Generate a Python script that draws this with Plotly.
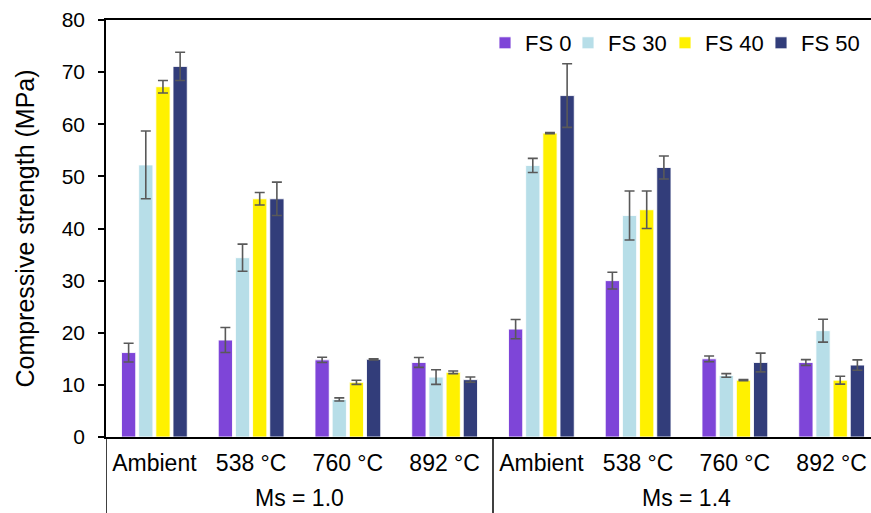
import plotly.graph_objects as go

# Temperature conditions within each silicate-modulus group
conditions = ["Ambient", "538 °C", "760 °C", "892 °C",
              "Ambient", "538 °C", "760 °C", "892 °C"]
ms_groups = ["Ms = 1.0", "Ms = 1.4"]
x_pos = list(range(len(conditions)))

series_names = ["FS 0", "FS 30", "FS 40", "FS 50"]

# Compressive strength (MPa) and standard deviation per mix
fs0 = [16.2, 18.6, 14.8, 14.3, 20.7, 30.0, 15.0, 14.3]
fs0_err = [1.8, 2.4, 0.5, 0.95, 1.85, 1.6, 0.55, 0.55]
fs30 = [52.2, 34.4, 7.2, 11.5, 52.1, 42.5, 11.8, 20.4]
fs30_err = [6.5, 2.6, 0.3, 1.4, 1.35, 4.7, 0.35, 2.2]
fs40 = [67.2, 45.7, 10.5, 12.4, 58.3, 43.6, 10.9, 10.9]
fs40_err = [1.2, 1.2, 0.4, 0.25, 0.1, 3.6, 0.1, 0.75]
fs50 = [71.1, 45.7, 14.9, 11.0, 65.5, 51.7, 14.3, 13.8]
fs50_err = [2.7, 3.2, 0.1, 0.5, 6.1, 2.2, 1.8, 1.0]

values = [fs0, fs30, fs40, fs50]
errors = [fs0_err, fs30_err, fs40_err, fs50_err]
colors = ["#7E45D8", "#B7DEE8", "#FFF100", "#323D7A"]

FONT = "Liberation Sans, Arial, sans-serif"

W, H = 871, 513
ML, MR, MT, MB = 106, 0, 20, 76
plot_w = W - ML - MR
plot_h = H - MT - MB
group_px = 96.75
x_max = -0.5 + plot_w / group_px

# Each legend entry gets its own legend box so the entries sit tight together
legend_ids = ["legend", "legend2", "legend3", "legend4"]
legend_left_px = [485, 568, 665, 761]

fig = go.Figure()
for name, vals, errs, col, lid in zip(series_names, values, errors, colors, legend_ids):
    fig.add_trace(go.Bar(
        name=name,
        x=x_pos,
        y=vals,
        legend=lid,
        marker=dict(color=col, line=dict(color="rgba(255,255,255,0.85)", width=1)),
        error_y=dict(type="data", array=errs, visible=True,
                     color="#595959", thickness=1.6, width=5),
    ))

legend_layout = {}
for lid, lx in zip(legend_ids, legend_left_px):
    legend_layout[lid] = dict(
        orientation="h", x=(lx - ML) / plot_w, xanchor="left",
        y=1 - (43 - MT) / plot_h, yanchor="middle",
        font=dict(size=22, family=FONT, color="black"),
        bgcolor="rgba(0,0,0,0)", itemwidth=30,
    )

fig.update_layout(
    width=W, height=H,
    margin=dict(l=ML, r=MR, t=MT, b=MB),
    paper_bgcolor="white", plot_bgcolor="white",
    barmode="group", bargap=0.29, bargroupgap=0.17,
    font=dict(family=FONT, color="black"),
    showlegend=True,
    **legend_layout,
)

fig.update_xaxes(
    range=[-0.5, x_max],
    tickmode="array", tickvals=x_pos, ticktext=conditions,
    ticks="", showgrid=False, zeroline=False,
    showline=True, linecolor="black", linewidth=1.5, mirror=True,
    tickfont=dict(size=23, family=FONT, color="black"),
    ticklabelstandoff=5,
)

fig.update_yaxes(
    range=[0, 80], dtick=10, tick0=0,
    ticks="outside", ticklen=6, tickwidth=1.5, tickcolor="black",
    showgrid=False, zeroline=False,
    showline=True, linecolor="black", linewidth=1.5,
    tickfont=dict(size=21, family=FONT, color="black"),
    ticklabelstandoff=9,
    title=dict(text="Compressive strength (MPa)", standoff=20,
               font=dict(size=25, family=FONT, color="black")),
)

# Group divider lines below the axis
bottom = -(MB + 5) / plot_h
for xd in [-0.5, 3.5]:
    fig.add_shape(type="line", xref="x", yref="paper",
                  x0=xd, x1=xd, y0=0, y1=bottom,
                  line=dict(color="black", width=1.5))

# Group labels, kept just inside the bottom edge
for i, label in enumerate(ms_groups):
    fig.add_annotation(text=label, xref="x", yref="paper",
                       x=1.5 + 4 * i, y=-(H - 1 - MT - plot_h) / plot_h,
                       yanchor="bottom", borderpad=0, showarrow=False,
                       font=dict(size=23, family=FONT, color="black"))

fig.write_html("out.html")
